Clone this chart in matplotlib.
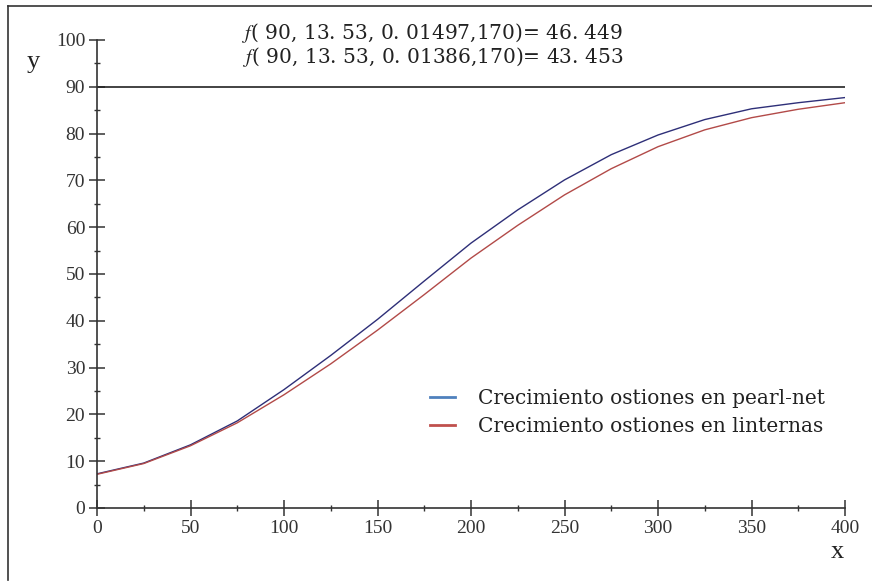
import numpy as np
import matplotlib.pyplot as plt
from matplotlib.lines import Line2D

# datos
x = [0, 25, 50, 75, 100, 125, 150, 175, 200, 225, 250, 275, 300, 325, 350, 375, 400]
pearl_net = [7.3, 9.6, 13.5, 18.6, 25.3, 32.6, 40.3, 48.5, 56.6, 63.7, 70.1, 75.5, 79.7, 83.0, 85.3, 86.6, 87.7]
linternas = [7.2, 9.5, 13.3, 18.2, 24.2, 30.8, 38.0, 45.6, 53.4, 60.4, 66.9, 72.5, 77.2, 80.8, 83.4, 85.2, 86.6]
etiquetas = ["Crecimiento ostiones en pearl-net", "Crecimiento ostiones en linternas"]
formulas = ["( 90, 13. 53, 0. 01497,170)= 46. 449",
            "( 90, 13. 53, 0. 01386,170)= 43. 453"]
asintota = 90

plt.rcParams['mathtext.fontset'] = 'stix'

fig = plt.figure(figsize=(8.72, 5.86), dpi=100)
ax = fig.add_axes([97/872, 1 - 508/586, (845 - 97)/872, (508 - 40)/586])

ax.plot(x, pearl_net, color='#2e2f78', lw=1.0)
ax.plot(x, linternas, color='#b24a48', lw=1.0)
ax.plot([0, 400], [asintota, asintota], color='#222222', lw=1.2)

ax.set_xlim(0, 400)
ax.set_ylim(0, 100)
ax.set_xticks(np.arange(0, 401, 50))
ax.set_xticks(np.arange(0, 401, 25), minor=True)
ax.set_yticks(np.arange(0, 101, 10))
ax.set_yticks(np.arange(0, 101, 5), minor=True)
for s in ['top', 'right']:
    ax.spines[s].set_visible(False)
for s in ['left', 'bottom']:
    ax.spines[s].set_color('#333333')
    ax.spines[s].set_linewidth(1.2)
ax.tick_params(which='major', direction='inout', length=11, width=1.1, color='#333333')
ax.tick_params(which='minor', direction='inout', length=5, width=1.0, color='#333333')
ax.tick_params(axis='both', labelsize=14, labelcolor='#333333')
for lab in ax.get_xticklabels() + ax.get_yticklabels():
    lab.set_fontfamily('Liberation Serif')
ax.tick_params(axis='x', pad=3)
ax.tick_params(axis='y', pad=3)

fig.text(33/872, 1 - 62/586, "y", fontsize=19, family='Liberation Serif', color='#222222',
         ha='center', va='center')
fig.text(837/872, 1 - 552/586, "x", fontsize=19, family='Liberation Serif', color='#222222',
         ha='center', va='center')

for i, f in enumerate(formulas):
    fig.text(433/872, 1 - (33 + 24 * i)/586, r"$f$" + f, fontsize=14.5, family='DejaVu Serif',
             color='#222222', ha='center', va='center')

handles = [Line2D([], [], color='#4f81bd', lw=2), Line2D([], [], color='#c0504d', lw=2)]
ax.legend(handles, etiquetas, loc='upper left', bbox_to_anchor=(0.445, 0.255), frameon=False,
          prop={'family': 'DejaVu Serif', 'size': 14.5}, handlelength=1.25, handletextpad=1.15,
          labelspacing=0.45, borderpad=0, borderaxespad=0, labelcolor='#222222')

# marco exterior (solo izquierda y arriba)
fig.add_artist(Line2D([8/872, 8/872], [1 - 580/586, 1 - 6/586], color='#333333', lw=1.2))
fig.add_artist(Line2D([8/872, 1], [1 - 6/586, 1 - 6/586], color='#333333', lw=1.2))

fig.savefig("out.png", dpi=100)
